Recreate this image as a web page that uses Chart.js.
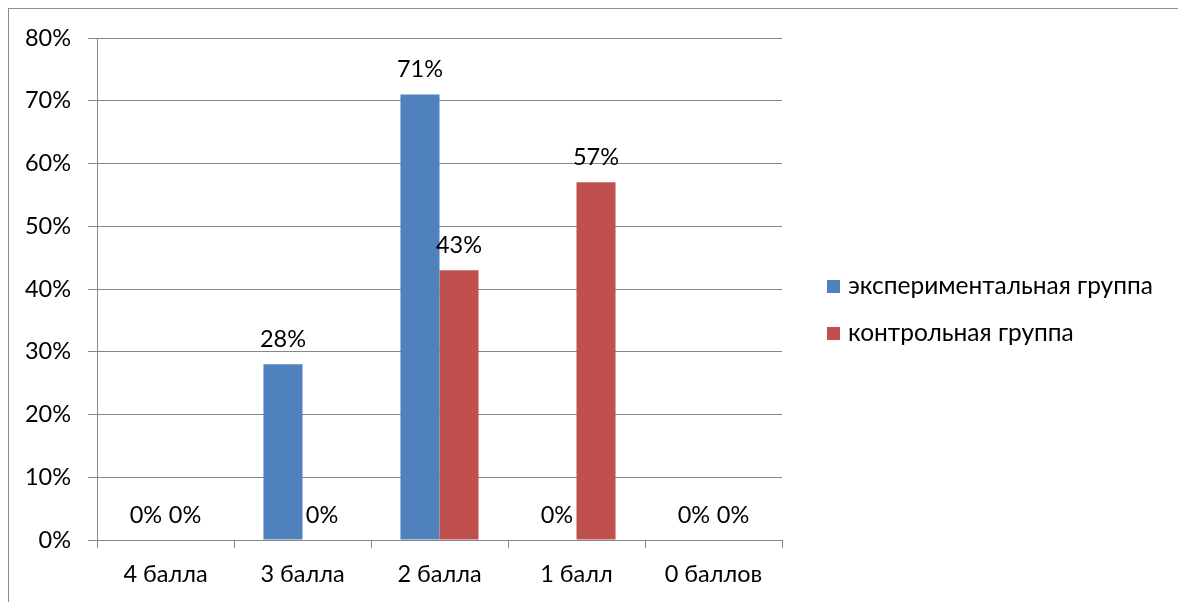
<!DOCTYPE html>
<html>
<head>
<meta charset="utf-8">
<script src="https://cdn.jsdelivr.net/npm/chart.js@4"></script>
<style>
  html, body { margin: 0; padding: 0; background: #fff; }
  #wrap { position: relative; width: 1178px; height: 602px; }
  #frame { position: absolute; left: 8px; top: 8px; width: 1200px; height: 620px; border: 1px solid #8c8c8c; }
  canvas { position: absolute; left: 0; top: 0; }
</style>
</head>
<body>
<div id="wrap">
  <div id="frame"></div>
  <canvas id="chart" width="1178" height="602"></canvas>
</div>
<script>
// Chart data
const categories = ['4 балла', '3 балла', '2 балла', '1 балл', '0 баллов'];
const experimentalValues = [0, 28, 71, 0, 0];
const controlValues = [0, 0, 43, 57, 0];
const seriesLabels = ['экспериментальная группа', 'контрольная группа'];
const yTicks = [0, 10, 20, 30, 40, 50, 60, 70, 80];

const FONT = 'Lato, "Liberation Sans", sans-serif';
const FONT_SIZE = 23.5;
const LEGEND_FONT_SIZE = 24.5;
const GRID = '#868686';

// value labels above each bar
const valueLabels = {
    id: 'valueLabels',
    afterDatasetsDraw(chart) {
        const ctx = chart.ctx;
        ctx.save();
        ctx.font = `${FONT_SIZE}px ${FONT}`;
        ctx.fillStyle = '#000';
        ctx.textAlign = 'center';
        ctx.textBaseline = 'middle';
        chart.data.datasets.forEach((ds, i) => {
            chart.getDatasetMeta(i).data.forEach((bar, j) => {
                ctx.fillText(ds.data[j] + '%', bar.x, bar.y - 25);
            });
        });
        ctx.restore();
    }
};

// legend on the right side, drawn by hand
const sideLegend = {
    id: 'sideLegend',
    afterDraw(chart) {
        const ctx = chart.ctx;
        ctx.save();
        ctx.font = `${LEGEND_FONT_SIZE}px ${FONT}`;
        ctx.textBaseline = 'middle';
        chart.data.datasets.forEach((ds, i) => {
            const y = 286 + i * 47;
            ctx.fillStyle = ds.backgroundColor;
            ctx.fillRect(827, y - 6, 13, 13);
            ctx.fillStyle = '#000';
            ctx.fillText(ds.label, 848, y);
        });
        ctx.restore();
    }
};

new Chart(document.getElementById('chart').getContext('2d'), {
    type: 'bar',
    data: {
        labels: categories,
        datasets: [
            {
                label: seriesLabels[0],
                data: experimentalValues,
                backgroundColor: '#4F81BD',
                categoryPercentage: 0.57,
                barPercentage: 1
            },
            {
                label: seriesLabels[1],
                data: controlValues,
                backgroundColor: '#C0504D',
                categoryPercentage: 0.57,
                barPercentage: 1
            }
        ]
    },
    options: {
        responsive: false,
        animation: false,
        layout: {
            padding: { left: 0, top: 38, right: 396, bottom: 0 }
        },
        plugins: {
            legend: { display: false },
            tooltip: { enabled: false }
        },
        scales: {
            x: {
                offset: true,
                grid: {
                    offset: true,
                    drawOnChartArea: false,
                    drawTicks: true,
                    tickLength: 8,
                    color: GRID
                },
                border: { color: GRID },
                ticks: {
                    color: '#000',
                    padding: 12,
                    font: { family: FONT, size: FONT_SIZE }
                },
                afterFit(scale) { scale.height = 62; }
            },
            y: {
                min: 0,
                max: 80,
                afterBuildTicks(scale) {
                    scale.ticks = yTicks.map(v => ({ value: v }));
                },
                grid: {
                    color: GRID,
                    tickLength: 9
                },
                border: { color: GRID },
                ticks: {
                    color: '#000',
                    padding: 17,
                    font: { family: FONT, size: FONT_SIZE },
                    callback: v => v + '%'
                },
                afterFit(scale) { scale.width = 97; }
            }
        }
    },
    plugins: [valueLabels, sideLegend]
});
</script>
</body>
</html>
